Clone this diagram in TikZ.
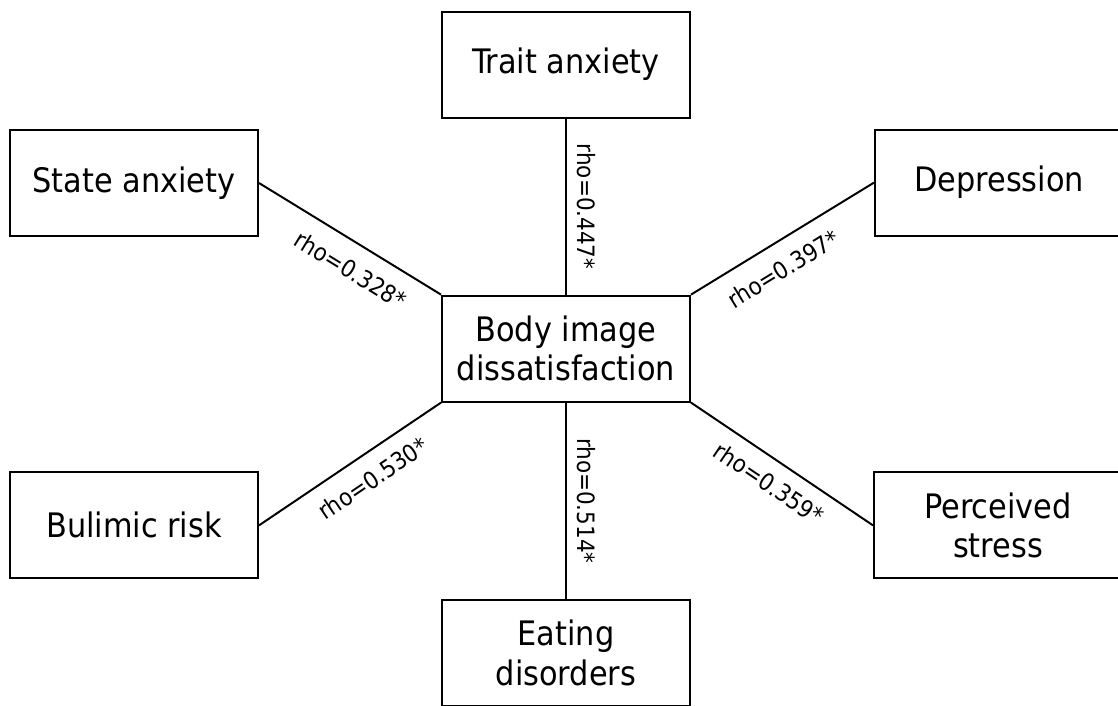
\documentclass[tikz,border=0pt]{standalone}
\usepackage{fontspec}
\setmainfont{DejaVu Sans Condensed}
\usepackage{tikz}
\usetikzlibrary{positioning}

\begin{document}
\begin{tikzpicture}[
		line width=1.4pt,
		factor/.style={draw, align=center, minimum width=6.2cm, minimum height=2.65cm,
			inner sep=2pt, font=\fontsize{24}{28}\selectfont},
		rholabel/.style={sloped, font=\fontsize{17}{20}\selectfont}
		]
		
		% =========================
		% frame
		% =========================
		\useasboundingbox (0,0) rectangle (27.95,17.625);
		
		% =========================
		% centre and surrounding factors
		% =========================
		\node[factor] (body) at (14.15,8.91) {Body image\\dissatisfaction};
		
		\node[factor] (trait) at (14.15,16.01) {Trait anxiety};
		\node[factor] (state) at (3.35,13.05) {State anxiety};
		\node[factor] (depr) at (24.975,13.06) {Depression};
		\node[factor] (bulim) at (3.35,4.49) {Bulimic risk};
		\node[factor] (stress) at (24.95,4.49) {Perceived\\stress};
		\node[factor] (eating) at (14.15,1.3) {Eating\\disorders};
		
		% =========================
		% correlations
		% =========================
		\draw (trait) -- (body) node[rholabel, midway, above=4pt] {rho=0.447*};
		\draw (state.east) -- (body.north west) node[rholabel, pos=0.58, below=8pt] {rho=0.328*};
		\draw (body.north east) -- (depr.west) node[rholabel, pos=0.43, below=8pt] {rho=0.397*};
		\draw (bulim.east) -- (body.south west) node[rholabel, pos=0.55, below=7pt] {rho=0.530*};
		\draw (body.south east) -- (stress.west) node[rholabel, midway, below=6pt] {rho=0.359*};
		\draw (body) -- (eating) node[rholabel, midway, above=4pt] {rho=0.514*};
		
	\end{tikzpicture}
\end{document}
